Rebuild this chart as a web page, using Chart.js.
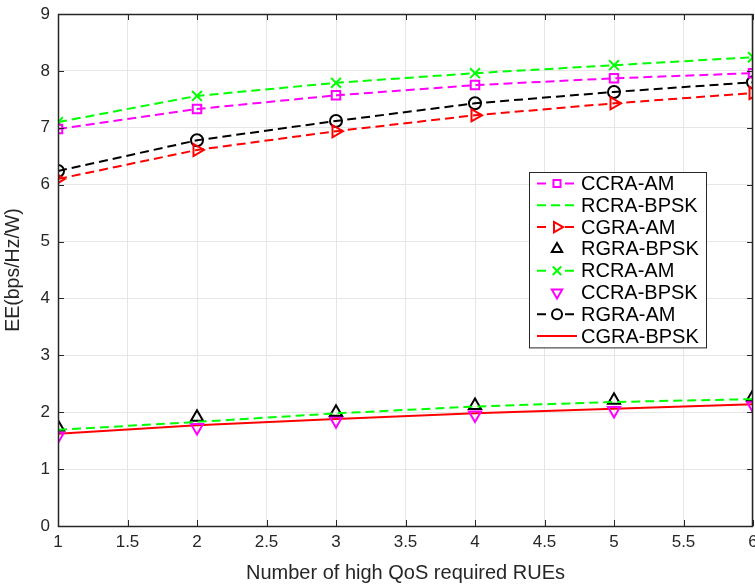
<!DOCTYPE html>
<html>
<head>
<meta charset="utf-8">
<script src="https://cdn.jsdelivr.net/npm/chart.js@4"></script>
<style>
  html, body { margin: 0; padding: 0; background: #fff; }
  #wrap { width: 755px; height: 584px; }
</style>
</head>
<body>
<div id="wrap"><canvas id="ee" width="755" height="584"></canvas></div>
<script>
/* ─── Data ─────────────────────────────────────── */

const xValues = [1, 2, 3, 4, 5, 6];

const ccraAM   = [6.98, 7.33, 7.57, 7.75, 7.87, 7.96];
const rcraBPSK = [1.69, 1.83, 1.98, 2.10, 2.18, 2.23];
const cgraAM   = [6.10, 6.61, 6.94, 7.22, 7.43, 7.61];
const rgraBPSK = [1.74, 1.91, 2.00, 2.12, 2.21, 2.27];
const rcraAM   = [7.10, 7.56, 7.79, 7.96, 8.10, 8.24];
const ccraBPSK = [1.58, 1.73, 1.85, 1.95, 2.03, 2.12];
const rgraAM   = [6.24, 6.78, 7.12, 7.43, 7.63, 7.80];
const cgraBPSK = [1.62, 1.77, 1.88, 1.98, 2.06, 2.14];

const xTicks = [1, 1.5, 2, 2.5, 3, 3.5, 4, 4.5, 5, 5.5, 6];
const yTicks = [0, 1, 2, 3, 4, 5, 6, 7, 8, 9];

/* ─── Styles ─────────────────────────────────────── */

const COLORS = { magenta: '#ff00ff', green: '#00ff00', red: '#ff0000', black: '#000000' };
const DASH = [9, 5];
const FONT = 'Liberation Sans';
const TEXT = '#262626';

const pts = ys => ys.map((y, i) => ({ x: xValues[i], y }));

function series(label, data, color, opts) {
  return Object.assign({
    label,
    data: pts(data),
    borderColor: color,
    backgroundColor: 'rgba(0,0,0,0)',
    pointBorderColor: color,
    pointBackgroundColor: 'rgba(0,0,0,0)',
    pointBorderWidth: 2,
    borderWidth: 2,
    borderDash: DASH,
    pointStyle: false,
    pointRadius: 5,
    pointRotation: 0,
    showLine: true,
    tension: 0,
  }, opts);
}

const datasets = [
  series('CCRA-AM', ccraAM, COLORS.magenta, { pointStyle: 'rect', pointRadius: 6 }),
  series('RCRA-BPSK', rcraBPSK, COLORS.green, {}),
  series('CGRA-AM', cgraAM, COLORS.red, { pointStyle: 'triangle', pointRotation: 90, pointRadius: 7 }),
  series('RGRA-BPSK', rgraBPSK, COLORS.black, { pointStyle: 'triangle', pointRadius: 7, showLine: false }),
  series('RCRA-AM', rcraAM, COLORS.green, { pointStyle: 'crossRot', pointRadius: 7 }),
  series('CCRA-BPSK', ccraBPSK, COLORS.magenta, { pointStyle: 'triangle', pointRotation: 180, pointRadius: 7, showLine: false }),
  series('RGRA-AM', rgraAM, COLORS.black, { pointStyle: 'circle', pointRadius: 6 }),
  series('CGRA-BPSK', cgraBPSK, COLORS.red, { borderDash: [] }),
];

/* ─── Plugins ─────────────────────────────────────── */

// matlab style box, inward ticks and x tick labels (allowed to run off the right edge)
const boxPlugin = {
  id: 'box',
  afterDraw(chart) {
    const { ctx, chartArea: a, scales } = chart;
    ctx.save();
    ctx.strokeStyle = TEXT;
    ctx.lineWidth = 1;
    ctx.beginPath();
    xTicks.forEach(t => {
      const px = Math.round(scales.x.getPixelForValue(t)) + 0.5;
      ctx.moveTo(px, a.bottom); ctx.lineTo(px, a.bottom - 6);
      ctx.moveTo(px, a.top); ctx.lineTo(px, a.top + 6);
    });
    yTicks.forEach(t => {
      const py = Math.round(scales.y.getPixelForValue(t)) + 0.5;
      ctx.moveTo(a.left, py); ctx.lineTo(a.left + 6, py);
      ctx.moveTo(a.right, py); ctx.lineTo(a.right - 6, py);
    });
    ctx.stroke();
    ctx.lineWidth = 1.5;
    ctx.strokeRect(Math.round(a.left) + 0.5, Math.round(a.top) + 0.5, Math.round(a.right - a.left) - 1, Math.round(a.bottom - a.top));

    ctx.fillStyle = TEXT;
    ctx.font = '17px "' + FONT + '"';
    ctx.textAlign = 'center';
    ctx.textBaseline = 'top';
    xTicks.forEach(t => ctx.fillText(String(t), scales.x.getPixelForValue(t), a.bottom + 8));
    ctx.restore();
  }
};

// legend box inside the plot area
const legendBox = {
  id: 'legendBox',
  afterDraw(chart) {
    const { ctx } = chart;
    const x0 = 529, y0 = 172, w = 177, rowH = 21.8;
    const h = rowH * datasets.length + 1;
    ctx.save();
    ctx.fillStyle = '#fff';
    ctx.fillRect(x0, y0, w, h);
    ctx.strokeStyle = TEXT;
    ctx.lineWidth = 1;
    ctx.strokeRect(x0 + 0.5, y0 + 0.5, w, h);
    ctx.font = '20px "' + FONT + '"';
    ctx.textBaseline = 'middle';
    chart.data.datasets.forEach((ds, i) => {
      const cy = y0 + 11.5 + i * rowH;
      if (ds.showLine) {
        ctx.strokeStyle = ds.borderColor;
        ctx.lineWidth = 2;
        ctx.setLineDash(ds.borderDash);
        ctx.beginPath();
        ctx.moveTo(537, cy); ctx.lineTo(577, cy);
        ctx.stroke();
        ctx.setLineDash([]);
      }
      if (ds.pointStyle) {
        ctx.fillStyle = '#fff';
        ctx.fillRect(550, cy - 6, 14, 12);
        ctx.strokeStyle = ds.pointBorderColor;
        ctx.fillStyle = 'rgba(0,0,0,0)';
        ctx.lineWidth = 2;
        Chart.helpers.drawPoint(ctx, {
          pointStyle: ds.pointStyle, radius: ds.pointRadius - 1, rotation: ds.pointRotation, borderWidth: 2
        }, 557, cy);
      }
      ctx.fillStyle = '#000';
      ctx.fillText(ds.label, 581, cy + 1);
    });
    ctx.restore();
  }
};

/* ─── Chart ─────────────────────────────────────── */

new Chart(document.getElementById('ee'), {
  type: 'scatter',
  data: { datasets },
  options: {
    responsive: false,
    animation: false,
    layout: { autoPadding: false, padding: { top: 14, right: 2, left: 0, bottom: 0 } },
    plugins: { legend: { display: false }, tooltip: { enabled: false } },
    scales: {
      x: {
        type: 'linear', min: 1, max: 6,
        afterBuildTicks: s => { s.ticks = xTicks.map(v => ({ value: v })); },
        afterFit: s => { s.height = 58; },
        grid: { color: '#e6e6e6', drawTicks: false },
        border: { display: false },
        ticks: { display: false },
        title: { display: true, text: 'Number of high QoS required RUEs', color: TEXT, padding: { top: 0, bottom: -1 }, font: { family: FONT, size: 20 } },
      },
      y: {
        type: 'linear', min: 0, max: 9,
        afterBuildTicks: s => { s.ticks = yTicks.map(v => ({ value: v })); },
        afterFit: s => { s.width = 58; s.paddingTop = 0; s.paddingBottom = 0; },
        grid: { color: '#e6e6e6', drawTicks: false },
        border: { display: false },
        ticks: { color: TEXT, padding: 8, callback: v => String(v), font: { family: FONT, size: 17 } },
        title: { display: true, text: 'EE(bps/Hz/W)', color: TEXT, padding: { top: 2, bottom: 4 }, font: { family: FONT, size: 19.5 } },
      },
    },
  },
  plugins: [boxPlugin, legendBox],
});
</script>
</body>
</html>
